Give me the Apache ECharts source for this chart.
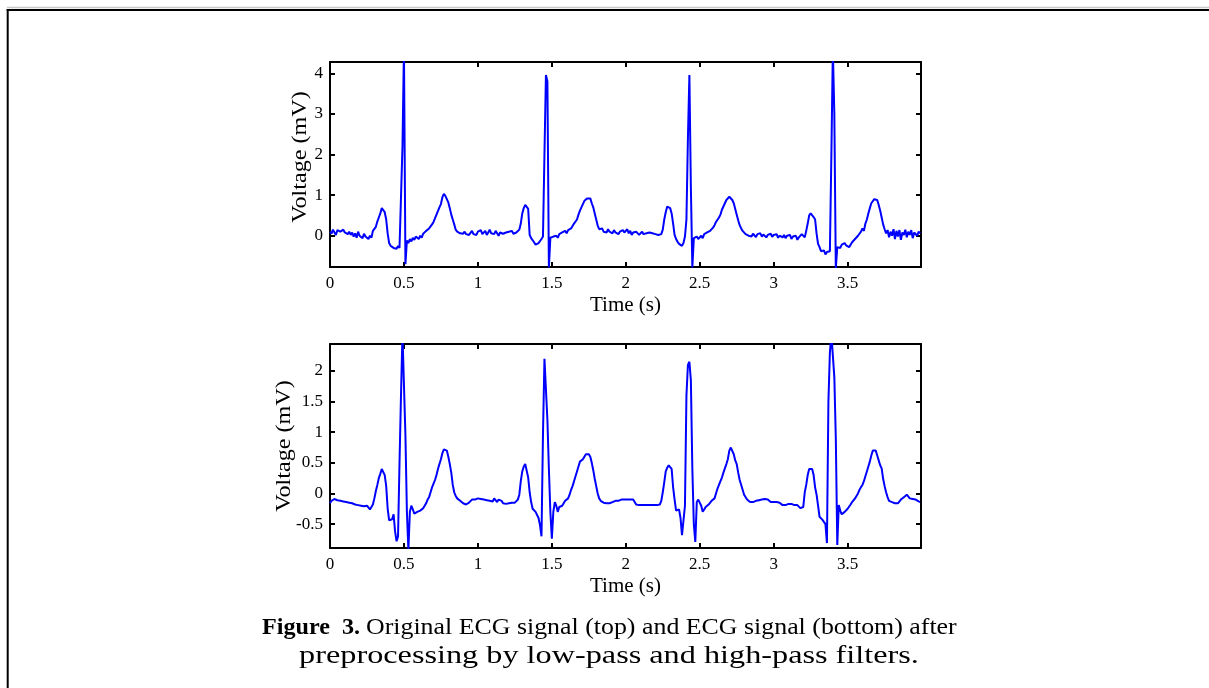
<!DOCTYPE html>
<html>
<head>
<meta charset="utf-8">
<script src="https://cdn.jsdelivr.net/npm/echarts@6/dist/echarts.min.js"></script>
<style>
html,body{margin:0;padding:0;background:#fff;}
#chart{width:1209px;height:688px;}
</style>
</head>
<body>
<div id="chart"></div>
<script>
// sampling step of both recordings (seconds)
const timeStep = 0.01;

// Original ECG signal (mV), one value per 0.01 s, rows of 0.1 s
const rawEcg = [
  0.10, 0.05, 0.15, 0.12, 0.02, 0.14, 0.18, 0.10, 0.06, 0.15,
  0.08, 0.12, 0.04, 0.10, 0.02, 0.08, -0.02, 0.06, -0.05, 0.10,
  0.00, 0.04, -0.06, 0.05, -0.02, 0.02, -0.08, 0.00, -0.05, 0.12,
  0.10, 0.22, 0.35, 0.45, 0.55, 0.68, 0.72, 0.58, 0.40, 0.05,
  -0.18, -0.25, -0.22, -0.30, -0.26, -0.32, -0.25, -0.30, -0.28, 2.20,
  4.60, -0.70, -0.12, -0.18, -0.08, -0.14, -0.05, -0.10, -0.02, -0.06,
  -0.08, 0.00, -0.05, 0.05, 0.02, 0.12, 0.08, 0.18, 0.14, 0.28,
  0.34, 0.30, 0.52, 0.48, 0.70, 0.78, 0.95, 1.03, 0.98, 0.90,
  0.82, 0.68, 0.52, 0.40, 0.28, 0.15, 0.10, 0.12, 0.06, 0.08,
  0.05, 0.10, 0.04, 0.08, 0.02, 0.06, 0.12, 0.04, 0.08, 0.02,
  0.10, 0.06, 0.14, 0.04, 0.08, 0.12, 0.02, 0.08, 0.15, 0.06,
  0.10, 0.04, 0.12, 0.06, 0.00, 0.08, 0.12, 0.05, 0.02, 0.08,
  0.04, 0.10, 0.06, 0.12, 0.05, 0.02, 0.08, 0.10, 0.15, 0.30,
  0.55, 0.68, 0.76, 0.74, 0.66, 0.02, -0.06, -0.10, -0.16, -0.22,
  -0.24, -0.18, -0.20, -0.08, -0.02, 2.00, 3.96, 3.80, -0.78, -0.05,
  -0.08, -0.02, -0.06, 0.00, -0.05, 0.04, 0.00, 0.08, 0.04, 0.12,
  0.06, 0.14, 0.10, 0.18, 0.22, 0.30, 0.28, 0.40, 0.52, 0.62,
  0.70, 0.78, 0.86, 0.90, 0.92, 0.88, 0.92, 0.80, 0.70, 0.55,
  0.40, 0.25, 0.16, 0.12, 0.18, 0.10, 0.14, 0.08, 0.16, 0.10,
  0.12, 0.06, 0.14, 0.08, 0.12, 0.04, 0.10, 0.06, 0.14, 0.08,
  0.10, 0.16, 0.06, 0.12, 0.02, 0.08, 0.04, 0.10, 0.06, 0.02,
  0.06, 0.10, 0.04, 0.00, 0.06, 0.02, 0.08, 0.04, 0.06, 0.02,
  0.04, 0.08, 0.02, 0.06, 0.04, 0.15, 0.40, 0.58, 0.72, 0.76,
  0.68, 0.55, 0.30, 0.02, -0.08, -0.15, -0.20, -0.24, -0.25, -0.18,
  -0.02, 0.40, 2.40, 3.96, 1.20, -0.78, -0.06, -0.10, -0.02, -0.08,
  -0.04, 0.00, -0.06, 0.04, 0.02, 0.08, 0.06, 0.12, 0.14, 0.20,
  0.26, 0.34, 0.38, 0.45, 0.52, 0.64, 0.72, 0.80, 0.88, 0.92,
  0.96, 0.95, 0.88, 0.80, 0.66, 0.52, 0.38, 0.26, 0.18, 0.12,
  0.08, 0.04, 0.06, 0.00, 0.04, -0.02, 0.05, 0.02, -0.03, 0.04,
  0.00, 0.06, -0.02, 0.03, 0.05, -0.04, 0.02, 0.00, 0.05, -0.03,
  0.02, -0.02, 0.04, -0.05, 0.00, 0.03, -0.04, 0.02, -0.06, 0.00,
  -0.03, 0.02, -0.08, -0.02, -0.06, 0.00, -0.10, -0.04, -0.02, 0.04,
  0.02, -0.04, 0.12, 0.30, 0.50, 0.55, 0.52, 0.46, 0.40, 0.05,
  -0.20, -0.28, -0.38, -0.42, -0.36, -0.46, -0.40, -0.44, -0.38, 2.00,
  4.60, 3.00, -0.80, -0.28, -0.24, -0.30, -0.22, -0.26, -0.18, -0.24,
  -0.20, -0.28, -0.22, -0.16, -0.20, -0.08, -0.12, 0.00, -0.04, 0.10,
  0.18, 0.12, 0.30, 0.40, 0.55, 0.68, 0.80, 0.78, 0.90, 0.86,
  0.88, 0.76, 0.62, 0.45, 0.28, 0.16, 0.06, 0.14, -0.04, 0.10,
  0.00, 0.16, -0.08, 0.12, -0.02, 0.14, -0.10, 0.08, 0.02, 0.15,
  -0.04, 0.10, 0.02, 0.14, -0.06, 0.08, 0.12, 0.00, 0.10, 0.06
];

// ECG after low-pass and high-pass filtering (mV), one value per 0.01 s
const filteredEcg = [
  -0.16, -0.12, -0.10, -0.09, -0.10, -0.11, -0.12, -0.12, -0.13, -0.13,
  -0.14, -0.14, -0.15, -0.15, -0.16, -0.16, -0.17, -0.18, -0.18, -0.19,
  -0.20, -0.20, -0.21, -0.21, -0.21, -0.20, -0.22, -0.26, -0.22, -0.18,
  -0.08, 0.04, 0.14, 0.25, 0.32, 0.40, 0.40, 0.30, 0.12, -0.25,
  -0.44, -0.46, -0.42, -0.34, -0.62, -0.78, -0.70, 0.50, 1.60, 2.60,
  2.60, 0.95, -0.30, -0.92, -0.30, -0.20, -0.26, -0.33, -0.32, -0.30,
  -0.30, -0.28, -0.26, -0.24, -0.20, -0.16, -0.10, -0.06, 0.02, 0.10,
  0.16, 0.22, 0.30, 0.40, 0.48, 0.56, 0.66, 0.72, 0.72, 0.70,
  0.60, 0.48, 0.34, 0.14, 0.02, -0.04, -0.08, -0.10, -0.12, -0.15,
  -0.16, -0.17, -0.18, -0.17, -0.15, -0.12, -0.10, -0.10, -0.10, -0.09,
  -0.08, -0.08, -0.09, -0.08, -0.10, -0.12, -0.11, -0.08, -0.12, -0.14,
  -0.13, -0.08, -0.10, -0.14, -0.10, -0.08, -0.12, -0.16, -0.17, -0.17,
  -0.16, -0.16, -0.16, -0.15, -0.15, -0.15, -0.14, -0.10, -0.02, 0.20,
  0.36, 0.44, 0.48, 0.46, 0.26, 0.02, -0.14, -0.25, -0.26, -0.30,
  -0.32, -0.40, -0.52, -0.70, 0.96, 2.20, 2.20, 1.20, 0.40, -0.30,
  -0.74, -0.30, -0.14, -0.20, -0.30, -0.22, -0.22, -0.20, -0.16, -0.12,
  -0.10, -0.08, -0.02, 0.06, 0.12, 0.20, 0.28, 0.36, 0.44, 0.52,
  0.51, 0.56, 0.60, 0.64, 0.66, 0.64, 0.60, 0.50, 0.38, 0.24,
  0.12, 0.00, -0.08, -0.12, -0.14, -0.15, -0.16, -0.16, -0.16, -0.16,
  -0.16, -0.14, -0.12, -0.12, -0.14, -0.12, -0.10, -0.10, -0.10, -0.10,
  -0.10, -0.10, -0.10, -0.10, -0.10, -0.10, -0.10, -0.18, -0.19, -0.19,
  -0.19, -0.19, -0.19, -0.19, -0.19, -0.19, -0.19, -0.19, -0.19, -0.19,
  -0.19, -0.19, -0.19, -0.18, -0.12, 0.02, 0.18, 0.36, 0.42, 0.46,
  0.47, 0.40, 0.10, -0.10, -0.28, -0.30, -0.26, -0.40, -0.68, -0.68,
  -0.20, 1.60, 2.10, 2.15, 1.85, 0.40, -0.50, -0.79, -0.14, -0.10,
  -0.08, -0.20, -0.30, -0.26, -0.22, -0.19, -0.18, -0.16, -0.12, -0.10,
  -0.08, 0.00, 0.08, 0.14, 0.20, 0.26, 0.34, 0.41, 0.48, 0.56,
  0.70, 0.75, 0.74, 0.64, 0.54, 0.48, 0.34, 0.22, 0.19, 0.06,
  -0.02, -0.05, -0.10, -0.12, -0.14, -0.14, -0.14, -0.14, -0.12, -0.12,
  -0.11, -0.10, -0.10, -0.09, -0.09, -0.10, -0.10, -0.12, -0.14, -0.14,
  -0.14, -0.14, -0.14, -0.14, -0.15, -0.18, -0.19, -0.19, -0.19, -0.17,
  -0.17, -0.17, -0.17, -0.17, -0.19, -0.19, -0.19, -0.19, -0.24, -0.25,
  -0.22, 0.02, 0.14, 0.30, 0.40, 0.42, 0.40, 0.30, 0.10, -0.02,
  -0.20, -0.38, -0.40, -0.43, -0.44, -0.50, -0.81, 1.50, 2.30, 2.60,
  2.60, 1.90, 0.90, -0.84, -0.19, -0.28, -0.34, -0.35, -0.30, -0.27,
  -0.25, -0.22, -0.18, -0.14, -0.12, -0.08, -0.04, 0.00, 0.06, 0.10,
  0.14, 0.20, 0.28, 0.36, 0.44, 0.52, 0.62, 0.70, 0.73, 0.70,
  0.62, 0.54, 0.46, 0.41, 0.24, 0.12, 0.02, -0.06, -0.12, -0.14,
  -0.14, -0.16, -0.16, -0.16, -0.16, -0.14, -0.10, -0.08, -0.06, -0.04,
  -0.02, -0.05, -0.08, -0.06, -0.09, -0.08, -0.10, -0.12, -0.13, -0.14
];

// tick labels
const timeTicks = [0, 0.5, 1, 1.5, 2, 2.5, 3, 3.5];
const rawVoltageTicks = [0, 1, 2, 3, 4];
const filteredVoltageTicks = [-0.5, 0, 0.5, 1, 1.5, 2];

// texts
const xTitle = 'Time (s)';
const yTitle = 'Voltage (mV)';
const captionBold = 'Figure  3.';
const captionLine1 = 'Original ECG signal (top) and ECG signal (bottom) after';
const captionLine2 = 'preprocessing by low-pass and high-pass filters.';

const SERIF = 'Liberation Serif';
const toPairs = arr => arr.map((v, i) => [Math.round(i * timeStep * 100) / 100, v]);

function xAxisPair(gridIndex, range) {
  const common = {
    type: 'value', gridIndex: gridIndex, min: range[0], max: range[1],
    splitLine: { show: false },
    axisLine: { show: true, onZero: false, lineStyle: { color: '#000', width: 2 } },
    axisTick: { show: true, inside: true, length: 5, customValues: timeTicks,
                lineStyle: { color: '#000', width: 2 } }
  };
  return [
    Object.assign({}, common, {
      position: 'bottom',
      axisLabel: { show: true, customValues: timeTicks, color: '#000',
                   fontFamily: SERIF, fontSize: 17, margin: 8 },
      name: xTitle, nameLocation: 'middle', nameGap: 28,
      nameTextStyle: { color: '#000', fontFamily: SERIF, fontSize: 21 }
    }),
    Object.assign({}, common, { position: 'top', axisLabel: { show: false } })
  ];
}

function yAxisPair(gridIndex, range, ticks) {
  const common = {
    type: 'value', gridIndex: gridIndex, min: range[0], max: range[1],
    splitLine: { show: false },
    axisLine: { show: true, onZero: false, lineStyle: { color: '#000', width: 2 } },
    axisTick: { show: true, inside: true, length: 5, customValues: ticks,
                lineStyle: { color: '#000', width: 2 } }
  };
  return [
    Object.assign({}, common, {
      position: 'left',
      axisLabel: { show: true, customValues: ticks, color: '#000',
                   fontFamily: SERIF, fontSize: 17, margin: 7 }
    }),
    Object.assign({}, common, { position: 'right', axisLabel: { show: false } })
  ];
}

const xRange = [0, 3.996];
const rawRange = [-0.77, 4.28];
const filteredRange = [-0.89, 2.44];

const chart = echarts.init(document.getElementById('chart'), null, { renderer: 'canvas' });

const lineSeries = (data, xi, yi) => ({
  type: 'line', xAxisIndex: xi, yAxisIndex: yi, data: toPairs(data),
  showSymbol: false, symbol: 'none', clip: true, animation: false,
  lineStyle: { color: '#0000ff', width: 2 }
});

chart.setOption({
  backgroundColor: '#fff',
  animation: false,
  grid: [
    { left: 330, top: 62, width: 591, height: 205 },
    { left: 330, top: 344, width: 591, height: 204 }
  ],
  xAxis: xAxisPair(0, xRange).concat(xAxisPair(1, xRange)),
  yAxis: yAxisPair(0, rawRange, rawVoltageTicks).concat(yAxisPair(1, filteredRange, filteredVoltageTicks)),
  series: [
    lineSeries(rawEcg, 0, 0),
    lineSeries(filteredEcg, 2, 2)
  ],
  graphic: [
    { type: 'line', shape: { x1: 7, y1: 7.5, x2: 1209, y2: 7.5 }, style: { stroke: '#c8c8c8', lineWidth: 1.5 } },
    { type: 'line', shape: { x1: 6.7, y1: 10, x2: 1209, y2: 10 }, style: { stroke: '#000', lineWidth: 2 } },
    { type: 'line', shape: { x1: 7.7, y1: 9, x2: 7.7, y2: 688 }, style: { stroke: '#000', lineWidth: 2 } },
    { type: 'text', x: 300, y: 157, rotation: Math.PI / 2, scaleX: 1.15,
      style: { text: yTitle, fill: '#000', font: '21px "Liberation Serif"', align: 'center', verticalAlign: 'middle' } },
    { type: 'text', x: 284, y: 446, rotation: Math.PI / 2, scaleX: 1.15,
      style: { text: yTitle, fill: '#000', font: '21px "Liberation Serif"', align: 'center', verticalAlign: 'middle' } },
    { type: 'text', x: 262, y: 628, scaleX: 1.05,
      style: { text: captionBold, fill: '#000', font: 'bold 23px "Liberation Serif"', align: 'left', verticalAlign: 'middle' } },
    { type: 'text', x: 366, y: 628, scaleX: 1.125,
      style: { text: captionLine1, fill: '#000', font: '23px "Liberation Serif"', align: 'left', verticalAlign: 'middle' } },
    { type: 'text', x: 609, y: 656, scaleX: 1.29,
      style: { text: captionLine2, fill: '#000', font: '25px "Liberation Serif"', align: 'center', verticalAlign: 'middle' } }
  ]
});
</script>
</body>
</html>
